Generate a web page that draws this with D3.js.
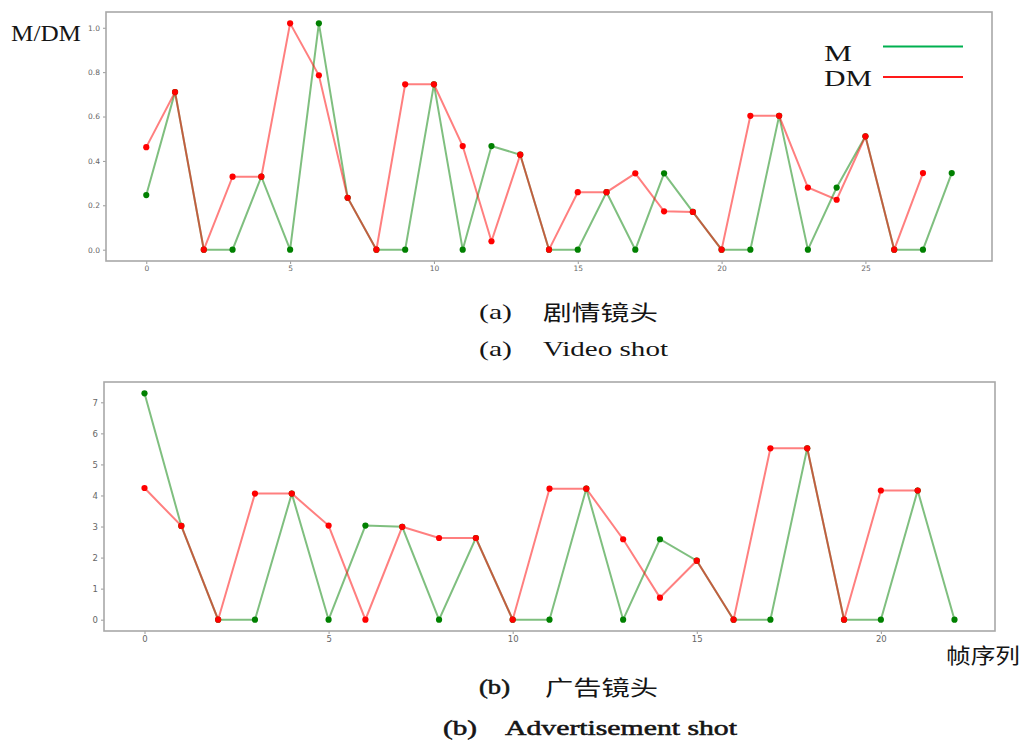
<!DOCTYPE html>
<html>
<head>
<meta charset="utf-8">
<script src="https://cdn.jsdelivr.net/npm/d3@7/dist/d3.min.js"></script>
<style>
  html, body { margin: 0; padding: 0; background: #fff; }
  svg { display: block; }
</style>
</head>
<body>
<svg id="fig" width="1022" height="740"></svg>
<script>
// Panel (a): video shot, motion M and difference DM per frame
const videoM  = [0.246, 0.71, 0, 0, 0.329, 0, 1.02, 0.234, 0, 0, 0.745, 0, 0.467, 0.428, 0, 0, 0.259, 0, 0.344, 0.17, 0, 0, 0.603, 0, 0.28, 0.511, 0, 0, 0.345];
const videoDM = [0.462, 0.71, 0, 0.329, 0.329, 1.02, 0.786, 0.234, 0, 0.745, 0.745, 0.467, 0.038, 0.428, 0, 0.259, 0.259, 0.344, 0.173, 0.17, 0, 0.603, 0.603, 0.28, 0.225, 0.511, 0, 0.345];
const videoYTicks = [0, 0.2, 0.4, 0.6, 0.8, 1.0];
const videoXTicks = [0, 5, 10, 15, 20, 25];

// Panel (b): advertisement shot
const adM  = [7.29, 3.02, 0, 0, 4.06, 0, 3.03, 2.99, 0, 2.63, 0, 0, 4.22, 0, 2.59, 1.9, 0, 0, 5.52, 0, 0, 4.16, 0];
const adDM = [4.24, 3.02, 0, 4.06, 4.06, 3.03, 0, 2.99, 2.63, 2.63, 0, 4.22, 4.22, 2.59, 0.71, 1.9, 0, 5.52, 5.52, 0, 4.16, 4.16];
const adYTicks = [0, 1, 2, 3, 4, 5, 6, 7];
const adXTicks = [0, 5, 10, 15, 20];

const legendLabels = ["M", "DM"];

const svg = d3.select("#fig");
svg.append("rect").attr("width", 1022).attr("height", 740).attr("fill", "#fff");

const SERIF = "'Liberation Serif', 'DejaVu Serif', serif";
const CJK = "'Noto Sans CJK SC', 'Noto Sans', sans-serif";
const GREEN = "#008000", RED = "#ff0000";

function padded(lo, hi) {
  const m = (hi - lo) * 0.05;
  return [lo - m, hi + m];
}

function panel(box, mVals, dmVals, yTicks, xTicks, yFmt, tickFont) {
  const n = Math.max(mVals.length, dmVals.length) - 1;
  const yMax = d3.max(mVals.concat(dmVals));
  const x = d3.scaleLinear().domain(padded(0, n)).range([box.left, box.right]);
  const y = d3.scaleLinear().domain(padded(0, yMax)).range([box.bottom, box.top]);

  const g = svg.append("g");

  const xAxis = g.append("g")
    .attr("transform", `translate(0,${box.bottom})`)
    .call(d3.axisBottom(x).tickValues(xTicks).tickSize(3).tickPadding(2).tickFormat(d3.format("d")));
  const yAxis = g.append("g")
    .attr("transform", `translate(${box.left},0)`)
    .call(d3.axisLeft(y).tickValues(yTicks).tickSize(3).tickPadding(3).tickFormat(yFmt));
  [xAxis, yAxis].forEach(a => {
    a.select(".domain").remove();
    a.selectAll("line").attr("stroke", "#999");
    a.selectAll("text").attr("fill", "#666").style("font-family", "'DejaVu Sans', sans-serif").style("font-size", tickFont + "px");
  });

  g.append("rect")
    .attr("x", box.left).attr("y", box.top)
    .attr("width", box.right - box.left).attr("height", box.bottom - box.top)
    .attr("fill", "none").attr("stroke", "#a8a8a8").attr("stroke-width", 1.6);

  const line = d3.line().x((d, i) => x(i)).y(d => y(d));

  [[mVals, GREEN], [dmVals, RED]].forEach(([vals, col]) => {
    g.append("path").datum(vals)
      .attr("d", line)
      .attr("fill", "none").attr("stroke", col)
      .attr("stroke-opacity", 0.5).attr("stroke-width", 2);
    g.append("g").selectAll("circle").data(vals).join("circle")
      .attr("cx", (d, i) => x(i)).attr("cy", d => y(d))
      .attr("r", 3.1).attr("fill", col);
  });
}

panel({ left: 106, right: 992, top: 12, bottom: 261 }, videoM, videoDM, videoYTicks, videoXTicks, d3.format(".1f"), 7.5);
panel({ left: 104, right: 995, top: 382, bottom: 631 }, adM, adDM, adYTicks, adXTicks, d3.format("d"), 8.5);

function label(txt, xPos, yPos, size, width, family, heavy) {
  const t = svg.append("text")
    .attr("x", xPos).attr("y", yPos)
    .attr("textLength", width).attr("lengthAdjust", "spacingAndGlyphs")
    .attr("fill", "#151515")
    .style("font-family", family).style("font-size", size + "px")
    .text(txt);
  if (heavy) t.attr("stroke", "#151515").attr("stroke-width", 0.55);
}

// axis titles
label("M/DM", 11, 40.5, 23, 70, SERIF);
label("帧序列", 946, 663, 21, 74, CJK);

// legend
const legendColors = ["#00b050", "#ff1a1a"];
const legendY = [46.5, 77];
const legendBase = [61, 86];
const legendW = [28, 48];
legendLabels.forEach((t, i) => {
  label(t, 824, legendBase[i], 22.5, legendW[i], SERIF);
  svg.append("line")
    .attr("x1", 883).attr("x2", 963)
    .attr("y1", legendY[i]).attr("y2", legendY[i])
    .attr("stroke", legendColors[i]).attr("stroke-width", 2);
});

// captions
label("(a)", 479, 319, 22, 33, SERIF);
label("剧情镜头", 543, 320, 21, 115, CJK);
label("(a)", 479, 355.5, 21, 33, SERIF);
label("Video shot", 543, 355.5, 21, 125, SERIF);

label("(b)", 479, 694, 22, 31, SERIF, true);
label("广告镜头", 545, 695, 21, 113, CJK);
label("(b)", 443, 735, 22, 34, SERIF, true);
label("Advertisement shot", 505, 735, 22, 232, SERIF, true);
</script>
</body>
</html>
